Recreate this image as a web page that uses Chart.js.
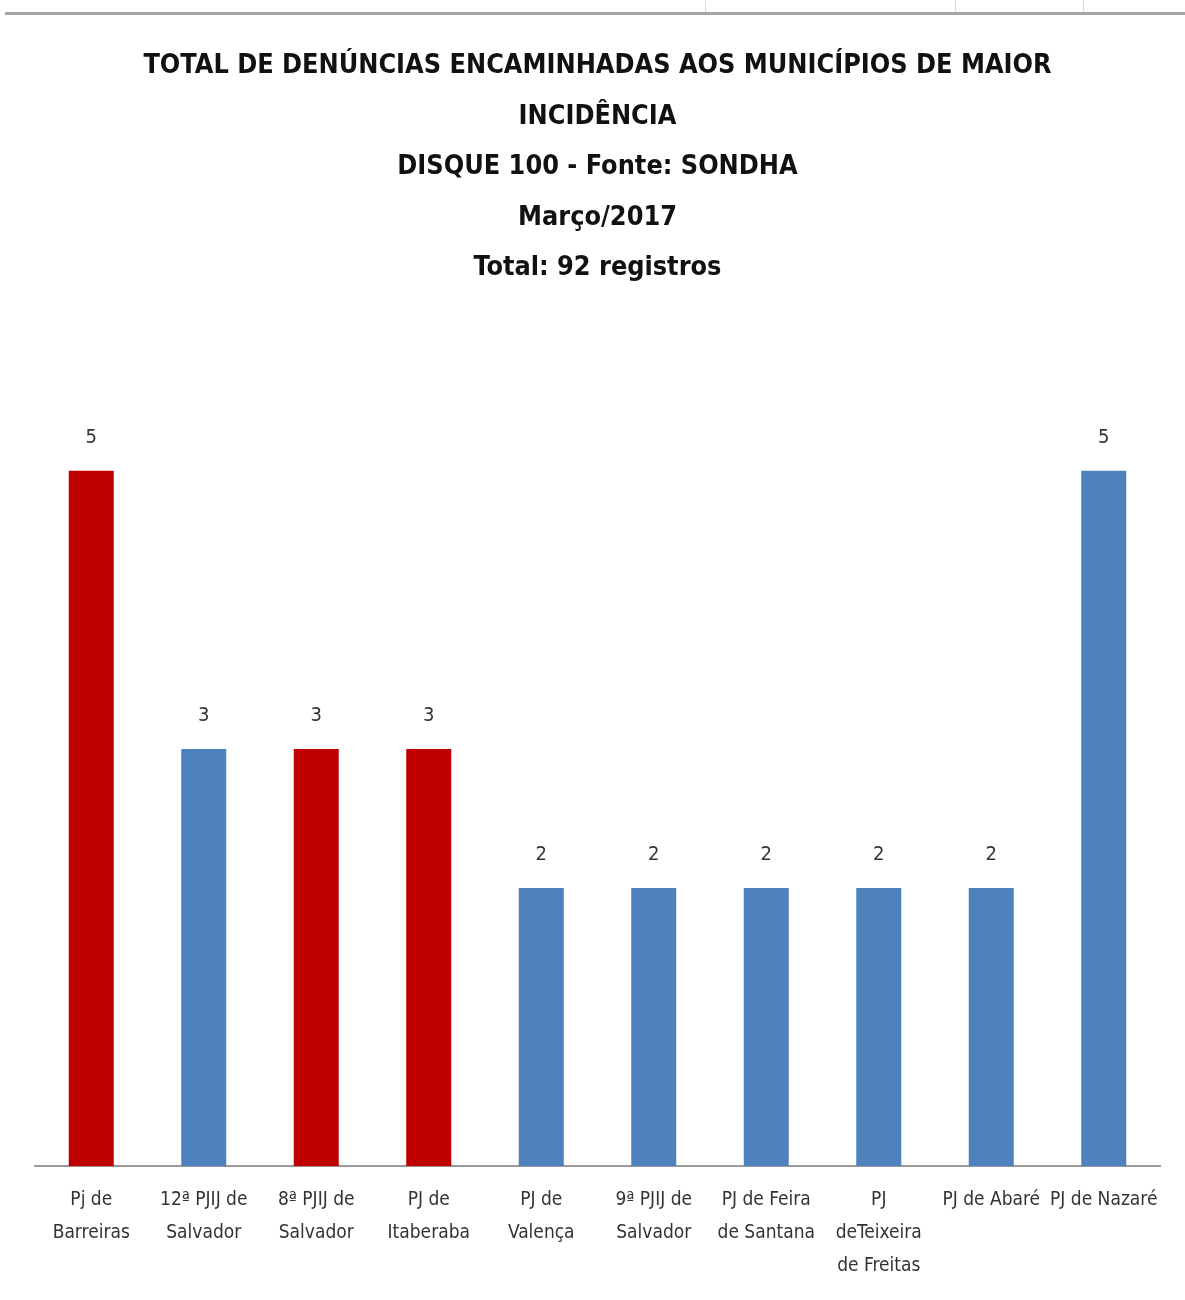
<!DOCTYPE html>
<html>
<head>
<meta charset="utf-8">
<script src="https://cdn.jsdelivr.net/npm/chart.js@4"></script>
<style>
body { margin: 0; background: #fff; }
canvas { display: block; }
</style>
</head>
<body>
<canvas id="chart" width="1185" height="1300"></canvas>
<script>
const TITLE_LINES = [
    'TOTAL DE DENÚNCIAS ENCAMINHADAS AOS MUNICÍPIOS DE MAIOR',
    'INCIDÊNCIA',
    'DISQUE 100 - Fonte: SONDHA',
    'Março/2017',
    'Total: 92 registros'
]
const LABELS = [
    ['Pj de', 'Barreiras'],
    ['12ª PJIJ de', 'Salvador'],
    ['8ª PJIJ de', 'Salvador'],
    ['PJ de', 'Itaberaba'],
    ['PJ de', 'Valença'],
    ['9ª PJIJ de', 'Salvador'],
    ['PJ de Feira', 'de Santana'],
    ['PJ', 'deTeixeira', 'de Freitas'],
    'PJ de Abaré',
    'PJ de Nazaré'
]
const VALUES = [5, 3, 3, 3, 2, 2, 2, 2, 2, 5]
const HIGHLIGHT = [true, false, true, true, false, false, false, false, false, false]

const RED = '#C00000'
const BLUE = '#4F81BD'
const FONT = "'DejaVu Sans Condensed', 'DejaVu Sans', sans-serif"

// spreadsheet frame bits around the chart
const sheet_lines = {
    id: 'sheet_lines',
    beforeDraw(chart) {
        let ctx = chart.ctx
        ctx.save()
        ctx.strokeStyle = '#d9d9d9'
        ctx.lineWidth = 1
        ;[705, 955, 1083].forEach(x => {
            ctx.beginPath()
            ctx.moveTo(x + 0.5, 0)
            ctx.lineTo(x + 0.5, 12)
            ctx.stroke()
        })
        ctx.strokeStyle = '#a6a6a6'
        ctx.lineWidth = 3
        ctx.beginPath()
        ctx.moveTo(5, 13.5)
        ctx.lineTo(1185, 13.5)
        ctx.stroke()
        ctx.restore()
    }
}

const value_labels = {
    id: 'value_labels',
    afterDatasetsDraw(chart) {
        let ctx = chart.ctx
        ctx.save()
        ctx.font = '20px ' + FONT
        ctx.fillStyle = '#333'
        ctx.textAlign = 'center'
        ctx.textBaseline = 'middle'
        chart.getDatasetMeta(0).data.forEach((bar, i) => {
            ctx.fillText(String(VALUES[i]), bar.x, bar.y - 33)
        })
        ctx.restore()
    }
}

new Chart(document.getElementById('chart').getContext('2d'), {
    'type': 'bar',
    'data': {
        'labels': LABELS,
        'datasets': [{
            'data': VALUES,
            'backgroundColor': HIGHLIGHT.map(h => h ? RED : BLUE),
            'borderWidth': 0,
            'barPercentage': 0.4,
            'categoryPercentage': 1
        }]
    },
    'options': {
        'responsive': false,
        'animation': false,
        'layout': {
            'padding': {'top': 0, 'left': 35, 'right': 25, 'bottom': 0}
        },
        'plugins': {
            'legend': {'display': false},
            'tooltip': {'enabled': false},
            'title': {
                'display': true,
                'text': TITLE_LINES,
                'color': '#111',
                'font': {'family': FONT, 'size': 26.8, 'weight': 'bold', 'lineHeight': 1.885},
                'padding': {'top': 41, 'bottom': 38}
            }
        },
        'scales': {
            'x': {
                'ticks': {
                    'color': '#333',
                    'font': {'family': FONT, 'size': 19, 'lineHeight': 1.75},
                    'maxRotation': 0,
                    'autoSkip': false,
                    'padding': 17
                },
                'grid': {'display': true, 'drawOnChartArea': false, 'drawTicks': false},
                'border': {'display': true, 'color': '#9a9a9a', 'width': 2}
            },
            'y': {
                'display': false,
                'min': 0,
                'max': 6
            }
        }
    },
    'plugins': [sheet_lines, value_labels]
});
</script>
</body>
</html>
